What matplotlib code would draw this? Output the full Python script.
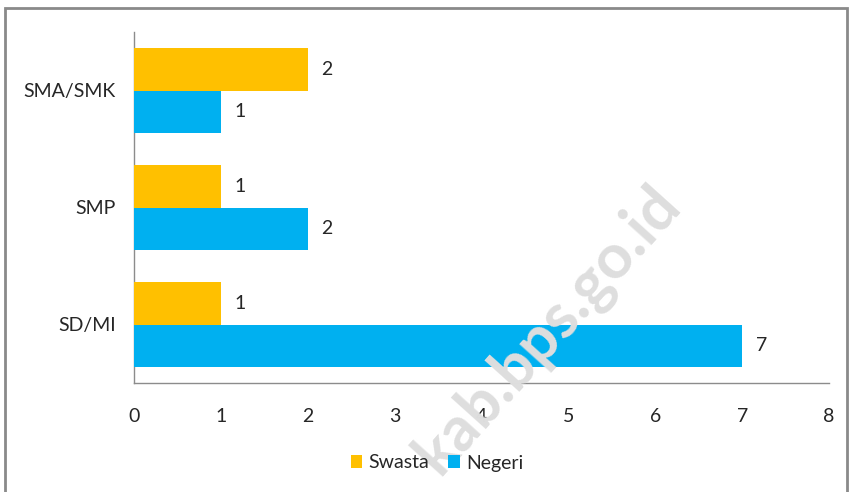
import matplotlib
matplotlib.use("Agg")
import matplotlib.pyplot as plt
from matplotlib.patches import Rectangle
import numpy as np

categories = ["SD/MI", "SMP", "SMA/SMK"]
swasta = [1, 1, 2]
negeri = [7, 2, 1]
xticks = [0, 1, 2, 3, 4, 5, 6, 7, 8]

plt.rcParams['font.family'] = ['Lato', 'DejaVu Sans']
text_color = '#262626'
c_swasta = '#FFC000'
c_negeri = '#00B0F0'

fig = plt.figure(figsize=(8.5, 4.92), dpi=100)
ax = fig.add_axes([134/850, 1-383/492, (829-134)/850, (383-32)/492])

y = np.arange(len(categories))
h = 0.36
b1 = ax.barh(y + h/2, swasta, height=h, color=c_swasta, label='Swasta', zorder=3)
b2 = ax.barh(y - h/2, negeri, height=h, color=c_negeri, label='Negeri', zorder=3)

for bars, vals in ((b1, swasta), (b2, negeri)):
    for rect, v in zip(bars, vals):
        ax.annotate(str(v), (rect.get_width(), rect.get_y() + rect.get_height()/2),
                    xytext=(10, 0), textcoords='offset points', va='center', ha='left',
                    fontsize=14, color=text_color, zorder=4)

ax.set_xlim(0, 8)
ax.set_ylim(-0.5, 2.5)
ax.set_xticks(xticks)
ax.set_xticklabels([str(t) for t in xticks])
ax.set_yticks(y)
ax.set_yticklabels(categories)
ax.tick_params(axis='both', length=0, labelsize=14, colors=text_color)
ax.tick_params(axis='x', pad=18)
ax.tick_params(axis='y', pad=13)
for s in ('top', 'right'):
    ax.spines[s].set_visible(False)
for s in ('left', 'bottom'):
    ax.spines[s].set_color('#8c8c8c')
    ax.spines[s].set_linewidth(1)
ax.patch.set_alpha(0)

leg = fig.legend(handles=[b1, b2], labels=['Swasta', 'Negeri'], loc='center',
                 bbox_to_anchor=(437/850, 1-463/492), ncol=2, frameon=False,
                 fontsize=14, handlelength=0.6, handleheight=0.6, handletextpad=0.3,
                 columnspacing=1.0)
for t in leg.get_texts():
    t.set_color(text_color)

# watermark
fig.text(548/850, 1-330/492, "kab.bps.go.id", rotation=48, fontsize=45,
         fontweight='bold', color='#dedede', ha='center', va='center', zorder=0)

# border
fig.patches.append(Rectangle((5/850, -0.02), 842/850, 1-8/492 + 0.02,
                             transform=fig.transFigure, fill=False,
                             edgecolor='#8a8a8a', linewidth=2, zorder=10))

fig.savefig('out.png', dpi=100)
